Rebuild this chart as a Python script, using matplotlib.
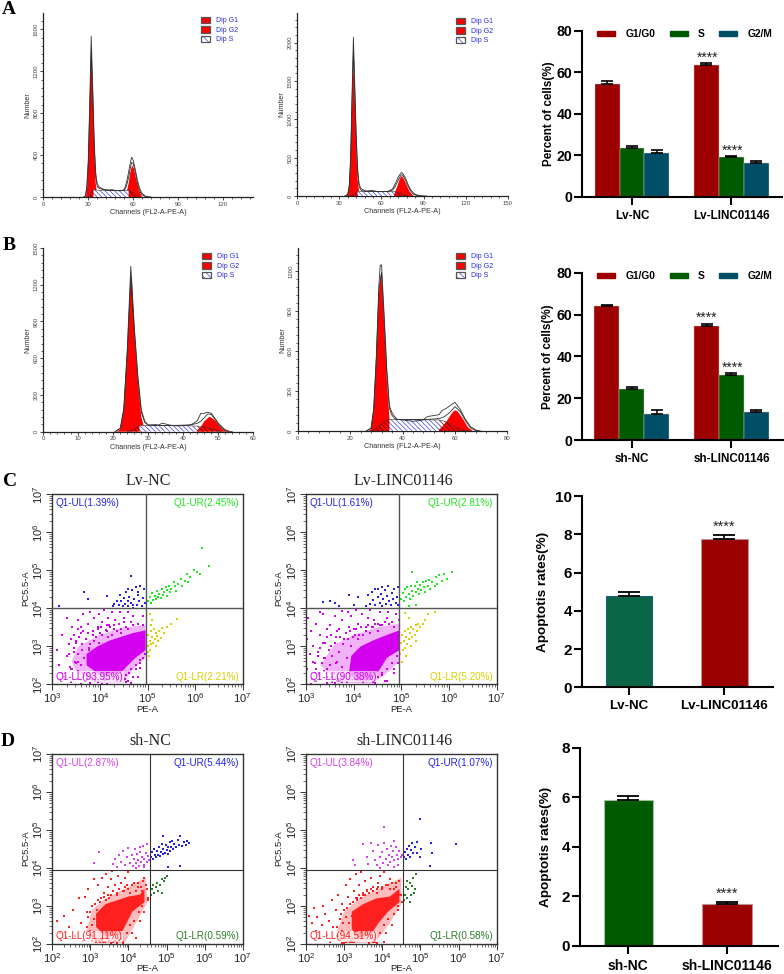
import numpy as np
import matplotlib
matplotlib.use("Agg")
import matplotlib.pyplot as plt
from matplotlib.legend_handler import HandlerTuple
from matplotlib.patches import Patch
from matplotlib.ticker import MultipleLocator, LogLocator, NullFormatter

plt.rcParams["font.family"] = ["Liberation Sans", "DejaVu Sans"]
plt.rcParams["hatch.linewidth"] = 0.5

W, H = 784, 974

# cell cycle histograms: channel / count
a1_g1_x = [28.5, 29.5, 30.5, 31.5, 32, 33, 34, 35, 36, 37]
a1_g1_y = [0, 120, 500, 1150, 1390, 950, 450, 130, 20, 0]
a1_g2_x = [54, 55, 56, 57, 58, 59.3, 60.5, 62, 64, 66]
a1_g2_y = [0, 20, 70, 130, 230, 302, 270, 170, 60, 0]
a1_s_x = [30, 32, 33.5, 36, 45, 55, 57, 60, 62, 64]
a1_s_y = [0, 40, 70, 65, 64, 64, 62, 40, 15, 0]
a1_data_x = [27, 28, 29, 30, 31, 32, 33, 34, 35, 36, 37, 38, 40, 43, 46, 49, 52, 54, 55, 56, 57, 58, 59, 60, 61, 62, 63, 64, 65, 66, 68, 70, 72]
a1_data_y = [0, 10, 90, 350, 900, 1533, 1050, 520, 230, 130, 100, 90, 75, 65, 70, 60, 60, 70, 110, 170, 240, 320, 380, 350, 290, 220, 150, 100, 60, 35, 10, 3, 0]
a1_fit_x = [27, 28, 29, 30, 31, 32, 33, 34, 35, 36, 37, 40, 45, 50, 54, 55, 56, 57, 58, 59, 60, 61, 62, 63, 64, 65, 66, 68, 70]
a1_fit_y = [0, 5, 70, 300, 820, 1400, 980, 480, 190, 100, 85, 70, 64, 62, 65, 85, 130, 190, 270, 330, 320, 265, 195, 125, 75, 40, 20, 5, 0]

a2_g1_x = [35, 36, 37, 38, 39, 40, 41, 42, 43, 44, 45, 46]
a2_g1_y = [0, 15, 90, 400, 1100, 1730, 1250, 640, 220, 60, 10, 0]
a2_g2_x = [66, 67, 69, 71, 73, 74.5, 76, 78, 80, 82, 83]
a2_g2_y = [0, 5, 20, 110, 220, 265, 220, 140, 60, 15, 0]
a2_s_x = [37, 40, 43, 46, 56, 66, 69, 72, 76, 79]
a2_s_y = [0, 20, 65, 58, 56, 55, 60, 45, 15, 0]
a2_data_x = [34, 35, 36, 37, 38, 39, 40, 41, 42, 43, 44, 45, 46, 48, 50, 53, 56, 60, 64, 66, 68, 70, 72, 74, 75, 77, 79, 81, 83, 85, 88, 92]
a2_data_y = [0, 10, 30, 130, 500, 1300, 2070, 1450, 800, 360, 170, 110, 90, 70, 65, 75, 62, 58, 58, 72, 95, 165, 250, 304, 300, 240, 150, 80, 35, 15, 5, 0]
a2_fit_x = [34, 36, 37, 38, 39, 40, 41, 42, 43, 44, 45, 46, 50, 60, 66, 68, 70, 72, 74, 75, 77, 79, 81, 83, 85, 88]
a2_fit_y = [0, 20, 110, 450, 1200, 1900, 1350, 720, 300, 130, 85, 68, 60, 56, 62, 78, 130, 210, 275, 275, 210, 125, 60, 20, 8, 0]

b1_g1_x = [21, 22, 23, 24, 25, 25.3, 26, 27, 28, 29, 30]
b1_g1_y = [0, 20, 170, 640, 1268, 1260, 800, 420, 120, 15, 0]
b1_g2_x = [42.5, 44, 45, 46, 47.5, 49, 50, 51, 52, 53]
b1_g2_y = [0, 15, 40, 85, 123, 95, 60, 25, 8, 0]
b1_s_x = [24, 26, 27.5, 29, 35, 42, 44, 46, 48, 50, 51]
b1_s_y = [0, 20, 52, 50, 49, 48, 45, 40, 25, 8, 0]
b1_data_x = [20.5, 22, 23, 24, 25, 26, 27, 28, 29, 30, 32, 33, 34, 36, 38, 40, 42, 43, 44, 45, 46, 47, 48, 49, 50, 51, 52, 53, 54]
b1_data_y = [0, 30, 190, 680, 1350, 860, 460, 180, 85, 55, 58, 55, 70, 55, 48, 50, 55, 70, 90, 150, 150, 160, 150, 110, 70, 40, 15, 5, 0]
b1_fit_x = [20.5, 22, 23, 24, 25, 26, 27, 28, 29, 30, 35, 42, 43, 44, 45, 46, 47, 48, 49, 50, 51, 52, 53]
b1_fit_y = [0, 25, 180, 650, 1270, 820, 440, 160, 75, 52, 50, 55, 62, 68, 85, 115, 145, 140, 105, 65, 32, 10, 0]

b2_g1_x = [27, 28, 29, 30, 31, 31.7, 32, 33, 34, 35, 36, 37]
b2_g1_y = [0, 15, 150, 520, 1030, 1170, 1150, 800, 400, 100, 10, 0]
b2_g2_x = [53, 55, 57, 59, 60, 61, 63, 65, 67]
b2_g2_y = [0, 30, 80, 140, 157, 150, 95, 30, 0]
b2_s_x = [28, 31, 33, 35, 45, 54, 56, 58, 60, 63, 66]
b2_s_y = [0, 35, 75, 90, 87, 85, 75, 55, 30, 10, 0]
b2_data_x = [26, 28, 29, 30, 31, 31.5, 32, 33, 34, 35, 36, 37, 38, 40, 42, 44, 46, 48, 49, 50, 52, 54, 55, 57, 58, 60, 62, 64, 66, 68, 70]
b2_data_y = [0, 25, 170, 560, 1100, 1245, 1245, 870, 470, 190, 140, 110, 90, 85, 80, 75, 80, 85, 105, 112, 118, 125, 155, 175, 190, 217, 165, 90, 35, 10, 0]
b2_fit_x = [26, 28, 29, 30, 31, 32, 33, 34, 35, 36, 37, 38, 42, 46, 50, 54, 56, 58, 60, 62, 64, 66, 68, 70]
b2_fit_y = [0, 20, 160, 540, 1060, 1190, 830, 440, 170, 120, 95, 88, 88, 88, 90, 95, 110, 140, 185, 150, 80, 25, 5, 0]

# bar values (mean, top of error bar)
cycle_phases = ["G1/G0", "S", "G2/M"]
a_groups = ["Lv-NC", "Lv-LINC01146"]
a_means = [[54.4, 23.4, 21.1], [63.8, 19.0, 16.3]]
a_tops = [[55.9, 24.3, 22.7], [64.7, 19.8, 17.1]]
b_groups = ["sh-NC", "sh-LINC01146"]
b_means = [[63.9, 24.4, 12.3], [54.7, 31.1, 13.5]]
b_tops = [[64.7, 25.2, 14.2], [55.6, 32.2, 14.3]]
c_means = [4.79, 7.75]
c_tops = [4.97, 7.98]
d_means = [5.87, 1.67]
d_tops = [6.03, 1.78]

# flow plots, all in log10 units. core/halo outline the dense part of the cloud
c1_core_x = [3.72, 3.72, 3.95, 4.2, 4.45, 4.7, 4.96, 4.96, 4.75, 4.55, 4.4, 4.0]
c1_core_y = [2.5, 2.8, 3.0, 3.15, 3.25, 3.35, 3.42, 2.9, 2.7, 2.45, 2.25, 2.25]
c1_halo_x = [3.4, 3.55, 4.0, 4.5, 4.96, 4.96, 4.7, 4.5, 3.9, 3.55]
c1_halo_y = [2.6, 3.0, 3.3, 3.5, 3.55, 2.7, 2.4, 2.05, 2.05, 2.25]
c1_ll_x = [3.1, 3.15, 3.2, 3.25, 3.3, 3.35, 3.4, 3.42, 3.45, 3.5, 3.52, 3.55, 3.55, 3.6, 3.62, 3.65, 3.7, 3.72, 3.75, 3.78, 3.8, 3.85, 3.88, 3.9, 3.95, 3.98, 4.0, 4.05, 4.08, 4.1, 4.15, 4.18, 4.2, 4.25, 4.3, 4.32, 4.35, 4.4, 4.42, 4.45, 4.5, 4.52, 4.55, 4.6, 4.62, 4.65, 4.7, 4.75, 4.8, 4.85, 4.9, 3.6, 3.4, 3.2, 3.3, 3.8, 4.6, 4.65, 4.8, 4.9]
c1_ll_y = [2.9, 2.5, 3.3, 2.2, 2.75, 3.05, 2.4, 3.5, 2.85, 3.1, 2.15, 3.7, 2.6, 3.35, 2.9, 3.85, 3.2, 2.25, 3.6, 2.95, 3.9, 3.3, 3.75, 2.1, 3.5, 3.85, 3.35, 3.65, 3.95, 2.12, 3.4, 3.75, 3.55, 3.9, 3.45, 3.7, 2.1, 3.6, 3.9, 3.45, 3.75, 2.15, 3.5, 3.9, 2.3, 3.65, 3.8, 2.4, 3.6, 2.55, 3.8, 2.02, 2.05, 2.3, 3.75, 2.03, 2.08, 2.03, 2.2, 2.7]
c1_mid_x = [3.42, 3.45, 3.48, 3.5, 3.53, 3.55, 3.57, 3.6, 3.62, 3.65, 3.67, 3.7, 3.72, 3.75, 3.78, 3.8, 3.82, 3.85, 3.88, 3.9, 3.92, 3.95, 3.98, 4.02, 4.05, 4.08, 4.12, 4.15, 4.18, 4.22, 4.25, 4.3, 4.35, 4.4, 4.45, 4.5, 4.55, 4.6, 4.65, 4.7, 4.75, 4.8, 4.85, 4.9, 4.95, 3.35, 3.38, 3.4, 3.45, 3.5, 3.55, 3.6, 3.65, 3.7, 3.95, 4.05, 4.15, 4.55, 4.7, 4.85]
c1_mid_y = [2.4, 2.95, 2.6, 3.15, 2.35, 2.8, 3.25, 2.5, 3.05, 2.3, 2.7, 3.2, 2.15, 3.35, 2.9, 3.05, 2.2, 3.4, 3.15, 2.12, 3.25, 3.45, 3.1, 3.5, 3.3, 2.15, 3.42, 3.55, 3.25, 3.5, 3.3, 3.55, 3.4, 3.6, 3.35, 3.65, 2.25, 3.45, 2.4, 3.55, 2.5, 3.6, 2.65, 3.55, 2.8, 2.8, 2.45, 3.2, 3.3, 2.55, 3.45, 3.5, 3.4, 2.1, 2.05, 2.02, 2.02, 2.05, 2.2, 2.42]
c1_ul_x = [3.14, 3.67, 3.76, 4.14, 4.65, 4.28, 4.3, 4.35, 4.4, 4.42, 4.45, 4.48, 4.5, 4.52, 4.55, 4.58, 4.6, 4.62, 4.65, 4.68, 4.7, 4.72, 4.75, 4.78, 4.8, 4.82, 4.85, 4.88, 4.9, 4.92, 4.94, 4.8, 4.7, 4.6]
c1_ul_y = [4.05, 4.44, 4.25, 4.32, 4.85, 4.05, 4.12, 4.2, 4.08, 4.35, 4.18, 4.05, 4.28, 4.12, 4.42, 4.2, 4.05, 4.3, 4.15, 4.48, 4.08, 4.25, 4.55, 4.1, 4.35, 4.18, 4.6, 4.05, 4.28, 4.5, 4.15, 4.42, 4.02, 4.52]
c1_ur_x = [5.02, 5.05, 5.08, 5.1, 5.12, 5.15, 5.18, 5.2, 5.22, 5.25, 5.28, 5.3, 5.32, 5.35, 5.38, 5.4, 5.42, 5.45, 5.48, 5.5, 5.55, 5.58, 5.6, 5.65, 5.7, 5.72, 5.78, 5.82, 5.85, 5.9, 5.98, 6.03, 6.1, 6.15, 6.3]
c1_ur_y = [4.2, 4.3, 4.15, 4.4, 4.22, 4.32, 4.25, 4.45, 4.3, 4.38, 4.28, 4.5, 4.35, 4.42, 4.55, 4.32, 4.48, 4.6, 4.42, 4.5, 4.7, 4.58, 4.45, 4.65, 4.78, 4.6, 4.72, 4.9, 4.68, 4.82, 5.0, 4.95, 4.9, 5.6, 5.12]
c1_lr_x = [5.0, 5.02, 5.03, 5.05, 5.05, 5.07, 5.08, 5.1, 5.1, 5.12, 5.13, 5.15, 5.17, 5.18, 5.2, 5.22, 5.25, 5.28, 5.3, 5.35, 5.42, 5.5, 5.63, 5.05, 5.08, 5.0]
c1_lr_y = [3.0, 3.3, 2.75, 3.15, 3.85, 3.4, 3.05, 3.25, 3.7, 3.1, 3.45, 3.2, 3.35, 3.0, 3.28, 3.15, 3.4, 3.22, 3.48, 3.35, 3.52, 3.58, 3.71, 2.9, 3.55, 2.85]

c2_core_x = [3.9, 3.95, 4.15, 4.4, 4.7, 4.96, 4.96, 4.7, 4.55, 4.35, 4.05]
c2_core_y = [2.3, 2.75, 3.0, 3.15, 3.3, 3.42, 2.9, 2.7, 2.4, 2.1, 2.1]
c2_halo_x = [3.3, 3.6, 4.0, 4.5, 4.96, 4.96, 4.7, 4.4, 3.7]
c2_halo_y = [2.5, 3.05, 3.3, 3.5, 3.6, 2.6, 2.3, 2.02, 2.05]
c2_ll_x = [3.02, 3.03, 3.05, 3.08, 3.1, 3.12, 3.15, 3.18, 3.2, 3.25, 3.28, 3.3, 3.35, 3.38, 3.4, 3.45, 3.5, 3.52, 3.55, 3.6, 3.62, 3.65, 3.7, 3.72, 3.75, 3.8, 3.85, 3.88, 3.9, 3.95, 4.0, 4.05, 4.1, 4.12, 4.18, 4.2, 4.25, 4.3, 4.35, 4.38, 4.42, 4.45, 4.5, 4.55, 4.6, 4.65, 4.7, 4.72, 4.8, 4.85, 4.88, 4.92, 3.1, 3.2, 3.3, 3.45, 3.6, 3.75, 4.4, 4.6]
c2_ll_y = [3.2, 2.4, 3.75, 2.8, 3.4, 2.15, 3.0, 2.55, 3.6, 2.85, 2.3, 3.3, 3.85, 2.7, 3.1, 2.4, 3.55, 3.0, 2.2, 3.8, 3.25, 2.6, 3.45, 2.1, 3.7, 3.2, 2.05, 3.9, 3.5, 3.8, 3.45, 3.95, 3.6, 3.3, 3.85, 2.05, 3.5, 3.75, 3.95, 3.5, 3.7, 2.03, 3.6, 3.9, 3.55, 2.1, 3.75, 3.9, 3.65, 2.3, 3.85, 2.55, 2.02, 2.08, 3.9, 2.03, 2.04, 3.92, 2.05, 2.3]
c2_mid_x = [3.22, 3.25, 3.28, 3.3, 3.33, 3.35, 3.38, 3.4, 3.43, 3.45, 3.48, 3.5, 3.53, 3.55, 3.58, 3.6, 3.63, 3.65, 3.68, 3.7, 3.72, 3.75, 3.78, 3.8, 3.83, 3.85, 3.88, 3.9, 3.92, 3.95, 3.98, 4.02, 4.05, 4.1, 4.15, 4.2, 4.25, 4.3, 4.35, 4.4, 4.45, 4.5, 4.55, 4.6, 4.65, 4.7, 4.75, 4.8, 4.85, 4.9, 4.95, 3.15, 3.18, 3.45, 3.55, 3.65, 3.75, 4.52, 4.7, 4.85]
c2_mid_y = [2.4, 2.75, 2.25, 2.95, 2.55, 3.1, 2.35, 2.7, 3.25, 2.2, 2.9, 2.5, 3.3, 2.75, 2.3, 3.1, 2.55, 3.4, 2.15, 2.85, 3.25, 2.45, 3.05, 2.2, 3.35, 2.7, 3.2, 2.3, 3.4, 3.0, 3.25, 3.3, 3.45, 3.2, 3.5, 3.3, 3.4, 3.55, 3.35, 3.5, 3.6, 3.4, 3.55, 2.25, 3.65, 2.4, 3.6, 2.55, 3.5, 2.75, 3.7, 2.6, 2.3, 3.45, 2.05, 2.08, 2.05, 2.2, 2.1, 2.4]
c2_ul_x = [3.35, 3.5, 3.6, 3.7, 3.9, 4.0, 4.1, 4.25, 4.3, 4.35, 4.38, 4.4, 4.45, 4.5, 4.52, 4.55, 4.58, 4.6, 4.62, 4.65, 4.68, 4.7, 4.72, 4.75, 4.78, 4.8, 4.82, 4.85, 4.88, 4.9, 4.92, 4.94, 4.6, 4.45]
c2_ul_y = [4.16, 4.18, 4.14, 4.06, 4.35, 4.08, 4.3, 4.05, 4.35, 4.12, 4.42, 4.22, 4.08, 4.3, 4.5, 4.15, 4.38, 4.05, 4.25, 4.48, 4.12, 4.32, 4.58, 4.2, 4.08, 4.4, 4.25, 4.5, 4.15, 4.3, 4.08, 4.55, 4.55, 4.5]
c2_ur_x = [5.0, 5.03, 5.05, 5.08, 5.1, 5.12, 5.15, 5.18, 5.2, 5.22, 5.25, 5.28, 5.3, 5.32, 5.35, 5.38, 5.4, 5.42, 5.45, 5.48, 5.5, 5.52, 5.55, 5.58, 5.6, 5.65, 5.7, 5.72, 5.75, 5.8, 5.85, 5.9, 5.95, 6.07, 5.22, 5.3, 5.15]
c2_ur_y = [4.25, 4.4, 4.2, 4.5, 4.3, 4.55, 4.38, 4.25, 4.6, 4.45, 4.32, 4.58, 4.42, 4.7, 4.5, 4.38, 4.62, 4.48, 4.68, 4.55, 4.42, 4.72, 4.6, 4.75, 4.5, 4.7, 4.58, 4.82, 4.65, 4.88, 4.72, 4.9, 4.78, 4.95, 4.95, 4.08, 4.05]
c2_lr_x = [4.98, 5.0, 5.02, 5.03, 5.05, 5.07, 5.08, 5.1, 5.12, 5.14, 5.16, 5.18, 5.2, 5.22, 5.25, 5.28, 5.3, 5.33, 5.35, 5.4, 5.45, 5.5, 5.55, 5.7, 5.08, 5.15, 5.02, 5.1, 5.2, 5.3]
c2_lr_y = [2.8, 3.1, 3.3, 2.9, 3.15, 3.4, 2.95, 3.25, 3.05, 3.45, 3.2, 3.35, 3.5, 3.25, 3.45, 3.3, 3.55, 3.4, 3.6, 3.5, 3.6, 3.7, 3.85, 3.9, 3.88, 3.75, 2.6, 2.75, 3.0, 3.15]

d1_core_x = [3.15, 3.15, 3.4, 3.7, 4.0, 4.3, 4.42, 4.42, 4.1, 3.95, 3.8, 3.4]
d1_core_y = [2.45, 2.8, 3.05, 3.15, 3.25, 3.3, 3.45, 3.1, 2.85, 2.55, 2.25, 2.2]
d1_halo_x = [2.9, 3.05, 3.4, 3.9, 4.45, 4.5, 4.25, 4.0, 3.9, 3.1]
d1_halo_y = [2.35, 2.9, 3.2, 3.45, 3.75, 3.1, 2.65, 2.2, 2.03, 2.03]
d1_ll_x = [2.12, 2.2, 2.3, 2.35, 2.45, 2.55, 2.6, 2.7, 2.75, 2.8, 2.85, 2.9, 2.95, 3.0, 3.05, 3.1, 3.15, 3.2, 3.25, 3.3, 3.32, 3.35, 3.4, 3.45, 3.5, 3.55, 3.58, 3.6, 3.65, 3.7, 3.72, 3.75, 3.8, 3.85, 3.88, 3.9, 3.95, 4.0, 4.05, 4.1, 4.15, 4.2, 4.25, 4.3, 4.35, 4.4, 4.45, 4.5]
d1_ll_y = [2.6, 2.3, 2.75, 2.15, 2.45, 2.9, 2.2, 3.2, 2.55, 2.08, 3.25, 2.85, 3.45, 2.35, 3.0, 3.7, 2.1, 3.55, 3.1, 3.75, 2.05, 3.35, 3.85, 3.5, 3.2, 3.7, 3.92, 2.05, 3.55, 3.3, 3.8, 2.1, 3.6, 2.02, 3.4, 3.75, 3.55, 3.9, 3.35, 2.3, 3.6, 2.15, 3.5, 2.6, 3.4, 2.85, 3.55, 3.15]
d1_mid_x = [2.92, 2.95, 2.98, 3.0, 3.03, 3.05, 3.08, 3.1, 3.12, 3.15, 3.18, 3.2, 3.23, 3.25, 3.28, 3.3, 3.33, 3.35, 3.38, 3.4, 3.45, 3.5, 3.55, 3.6, 3.65, 3.7, 3.75, 3.8, 3.85, 3.9, 3.95, 4.0, 4.05, 4.1, 4.15, 4.2, 4.25, 4.28, 4.32, 4.35, 4.38, 4.42, 4.48, 4.5, 3.05, 3.15, 3.25, 3.55, 3.7, 3.85]
d1_mid_y = [2.45, 2.7, 2.25, 2.85, 2.5, 3.0, 2.2, 2.65, 3.05, 2.12, 2.9, 3.15, 2.08, 2.75, 3.2, 2.1, 2.6, 3.25, 2.05, 3.15, 3.3, 2.08, 3.3, 3.4, 2.08, 3.35, 3.45, 2.12, 3.4, 3.5, 2.3, 3.45, 2.5, 3.55, 2.6, 3.4, 3.6, 2.85, 3.5, 3.0, 3.65, 3.75, 3.45, 3.2, 2.08, 2.05, 2.05, 2.03, 2.03, 2.05]
d1_ul_x = [3.1, 3.22, 3.6, 3.65, 3.7, 3.75, 3.8, 3.85, 3.9, 3.95, 4.0, 4.05, 4.1, 4.12, 4.15, 4.18, 4.2, 4.22, 4.25, 4.28, 4.3, 4.33, 4.35, 4.38, 4.4, 4.42, 4.45, 4.48, 4.5, 4.53, 4.3, 4.4, 4.48, 4.2]
d1_ul_y = [4.14, 4.42, 4.1, 4.25, 4.02, 4.35, 4.15, 4.45, 4.08, 4.28, 4.52, 4.12, 4.35, 4.05, 4.25, 4.5, 4.12, 4.38, 4.2, 4.05, 4.42, 4.15, 4.3, 4.58, 4.08, 4.25, 4.4, 4.15, 4.32, 4.2, 4.55, 4.02, 4.62, 4.0]
d1_ur_x = [4.6, 4.62, 4.65, 4.68, 4.7, 4.72, 4.75, 4.78, 4.8, 4.82, 4.85, 4.88, 4.9, 4.92, 4.95, 4.98, 5.0, 5.03, 5.05, 5.08, 5.1, 5.12, 5.15, 5.18, 5.2, 5.25, 5.3, 5.33, 5.35, 5.4, 5.45, 5.5, 5.55, 5.6, 4.9, 5.36, 5.05]
d1_ur_y = [4.3, 4.42, 4.25, 4.5, 4.35, 4.28, 4.45, 4.35, 4.55, 4.32, 4.42, 4.62, 4.38, 4.5, 4.4, 4.6, 4.48, 4.38, 4.55, 4.68, 4.45, 4.55, 4.72, 4.5, 4.62, 4.55, 4.75, 4.6, 4.85, 4.58, 4.68, 4.6, 4.72, 4.65, 4.85, 4.05, 4.02]
d1_lr_x = [4.6, 4.62, 4.65, 4.68, 4.72, 4.75, 4.78, 4.82, 4.88, 4.93, 4.97, 5.02, 4.88]
d1_lr_y = [3.3, 3.45, 3.55, 3.35, 3.5, 3.6, 3.4, 3.55, 3.7, 3.65, 3.75, 3.8, 3.35]

d2_core_x = [3.2, 3.2, 3.5, 3.85, 4.2, 4.45, 4.45, 4.15, 3.9, 3.7, 3.35]
d2_core_y = [2.4, 2.85, 3.05, 3.2, 3.25, 3.45, 3.1, 2.85, 2.55, 2.25, 2.15]
d2_halo_x = [2.8, 3.0, 3.4, 3.9, 4.5, 4.5, 4.2, 3.9, 3.7, 2.95]
d2_halo_y = [2.3, 2.85, 3.2, 3.45, 3.75, 3.05, 2.55, 2.15, 2.03, 2.03]
d2_ll_x = [2.08, 2.15, 2.2, 2.25, 2.3, 2.35, 2.42, 2.45, 2.5, 2.55, 2.6, 2.62, 2.68, 2.72, 2.78, 2.82, 2.85, 2.9, 2.95, 3.0, 3.05, 3.1, 3.15, 3.2, 3.25, 3.3, 3.35, 3.4, 3.45, 3.5, 3.55, 3.6, 3.65, 3.7, 3.75, 3.8, 3.85, 3.9, 3.95, 4.0, 4.05, 4.1, 4.15, 4.2, 4.25, 4.3, 4.35, 4.4, 4.45, 4.52]
d2_ll_y = [2.75, 2.55, 2.95, 2.35, 2.7, 2.15, 2.5, 3.0, 2.8, 2.25, 2.6, 2.05, 3.15, 2.45, 2.9, 2.2, 3.3, 2.65, 3.05, 2.02, 3.55, 3.25, 3.7, 2.05, 3.4, 3.85, 3.2, 3.55, 3.9, 3.3, 3.65, 3.42, 2.03, 3.75, 3.5, 2.05, 3.35, 3.6, 3.8, 3.45, 3.9, 2.3, 3.55, 3.72, 2.5, 3.45, 3.6, 2.9, 3.3, 3.1]
d2_mid_x = [2.82, 2.85, 2.88, 2.9, 2.93, 2.95, 2.98, 3.0, 3.03, 3.05, 3.08, 3.1, 3.13, 3.15, 3.18, 3.2, 3.23, 3.25, 3.28, 3.3, 3.35, 3.4, 3.45, 3.5, 3.55, 3.6, 3.65, 3.7, 3.75, 3.8, 3.85, 3.9, 3.95, 4.0, 4.05, 4.1, 4.15, 4.2, 4.25, 4.3, 4.35, 4.4, 4.45, 4.48, 2.95, 3.05, 3.15, 3.75, 3.85, 4.05]
d2_mid_y = [2.45, 2.2, 2.65, 2.1, 2.8, 2.35, 2.55, 2.9, 2.15, 2.7, 2.95, 2.3, 2.55, 3.05, 2.08, 2.75, 3.1, 2.05, 2.6, 3.2, 3.15, 3.3, 3.2, 3.35, 3.3, 3.4, 3.35, 3.45, 3.4, 2.1, 3.45, 3.5, 2.3, 3.5, 2.5, 3.55, 2.65, 3.45, 3.6, 2.8, 3.5, 3.0, 3.65, 3.3, 2.03, 2.05, 2.05, 2.05, 2.03, 2.05]
d2_ul_x = [3.22, 3.28, 3.5, 3.6, 3.62, 3.7, 3.75, 3.8, 3.85, 3.9, 3.95, 4.0, 4.02, 4.05, 4.1, 4.12, 4.15, 4.18, 4.2, 4.22, 4.25, 4.28, 4.3, 4.32, 4.35, 4.38, 4.4, 4.42, 4.45, 4.48, 4.52, 4.05, 3.95, 4.3]
d2_ul_y = [4.2, 4.08, 4.62, 4.28, 4.1, 4.65, 4.45, 4.2, 4.08, 4.6, 4.3, 4.42, 4.12, 4.65, 4.25, 4.5, 4.08, 4.35, 4.15, 4.58, 4.3, 4.45, 4.02, 4.22, 4.55, 4.35, 4.08, 4.25, 4.45, 4.3, 4.35, 5.08, 4.0, 4.7]
d2_ur_x = [4.57, 4.6, 4.62, 4.65, 4.68, 4.7, 4.72, 4.75, 4.78, 4.8, 4.85, 4.9, 4.92, 5.02, 5.28, 5.3, 5.25, 5.92, 4.98, 5.0]
d2_ur_y = [4.3, 4.42, 4.25, 4.5, 4.35, 4.58, 4.3, 4.48, 4.65, 4.4, 4.55, 4.68, 4.4, 4.5, 4.65, 4.4, 4.05, 4.62, 5.28, 4.3]
d2_lr_x = [4.56, 4.6, 4.62, 4.65, 4.68, 4.72, 4.75, 4.78, 4.8, 4.82, 4.85, 4.88, 4.72, 4.65]
d2_lr_y = [3.15, 3.3, 3.5, 3.2, 3.45, 3.6, 3.3, 3.52, 3.75, 3.35, 3.45, 3.85, 3.1, 3.65]


def px_axes(left, top, right, bottom):
    return fig.add_axes([left / W, 1 - bottom / H, (right - left) / W, (bottom - top) / H])


def histogram(box, xlim, ylim, xmaj, ymaj, g1, g2, s, data, fit, s_lims, legend_px):
    ax = px_axes(*box)
    ax.set_xlim(0, xlim)
    ax.set_ylim(0, ylim)
    for name in ["top", "right"]:
        ax.spines[name].set_visible(False)
    for name in ["left", "bottom"]:
        ax.spines[name].set_linewidth(0.9)
        ax.spines[name].set_color("#222222")
    ax.xaxis.set_major_locator(MultipleLocator(xmaj))
    ax.xaxis.set_minor_locator(MultipleLocator(xmaj / 5))
    ax.yaxis.set_major_locator(MultipleLocator(ymaj))
    ax.yaxis.set_minor_locator(MultipleLocator(ymaj / 5))
    ax.tick_params(which="major", length=2.5, width=0.6, pad=0.8, labelsize=4.3, labelcolor="#444444", color="#222222")
    ax.tick_params(which="minor", length=1.6, width=0.5, color="#222222")
    ax.tick_params(axis="y", labelrotation=90)
    for lab in ax.get_yticklabels():
        lab.set_va("center")
    ax.set_xlabel("Channels (FL2-A-PE-A)", fontsize=5.2, color="#333333", va="center")
    ax.xaxis.set_label_coords(0.5, -15.5 / (box[3] - box[1]))
    ax.set_ylabel("Number", fontsize=5.2, color="#333333", va="center")
    ax.yaxis.set_label_coords(-15 / (box[2] - box[0]), 0.5)

    ax.fill(g1[0], g1[1], color="#ff0000", lw=0, zorder=2)
    ax.fill(g2[0], g2[1], color="#ff0000", lw=0, zorder=2)
    sx = np.array(s[0], dtype=float)
    sy = np.array(s[1], dtype=float)
    mid = (sx >= s_lims[0]) & (sx <= s_lims[1])
    ax.fill_between(sx, 0, sy, where=mid, facecolor="white", edgecolor="#3a44d8", hatch="\\\\\\\\\\\\\\", linewidth=0, zorder=3)
    ax.fill_between(sx, 0, sy, where=sx <= s_lims[0], facecolor="none", edgecolor="#5a0000", hatch="\\\\\\\\\\\\\\", linewidth=0, zorder=3)
    ax.fill_between(sx, 0, sy, where=sx >= s_lims[1], facecolor="none", edgecolor="#5a0000", hatch="\\\\\\\\\\\\\\", linewidth=0, zorder=3)
    ax.plot(sx, sy, color="#333333", lw=0.4, zorder=4)
    ax.plot(fit[0], fit[1], color="#222222", lw=0.55, zorder=5)
    ax.plot(data[0], data[1], color="#333333", lw=0.6, zorder=5)

    handles = [Patch(facecolor="#ff0000", edgecolor="#555555", lw=0.9),
               Patch(facecolor="#ff0000", edgecolor="#555555", lw=0.9),
               (Patch(facecolor="white", edgecolor="#3a44d8", hatch="\\\\\\\\\\", lw=0),
                Patch(facecolor="none", edgecolor="#555555", lw=0.9))]
    ax.legend(handles, ["Dip G1", "Dip G2", "Dip S"], loc="upper left",
              bbox_to_anchor=(legend_px[0] / W, 1 - legend_px[1] / H), bbox_transform=fig.transFigure,
              frameon=False, fontsize=5, labelcolor="#2a2ae0", borderpad=0, borderaxespad=0,
              handlelength=1.35, handleheight=1.0, handletextpad=0.75, labelspacing=0.26,
              handler_map={tuple: HandlerTuple(ndivide=1, pad=0)})
    return ax


def style_bar_axes(ax, ymax, ystep, group_labels, ticks, ylabel, tick_size, group_size, label_size, label_x):
    for name in ["top", "right"]:
        ax.spines[name].set_visible(False)
    for name in ["left", "bottom"]:
        ax.spines[name].set_linewidth(1.5)
    ax.set_ylim(0, ymax)
    ax.yaxis.set_major_locator(MultipleLocator(ystep))
    ax.set_xticks(ticks)
    ax.set_xticklabels(group_labels, fontsize=group_size, fontweight="bold")
    ax.tick_params(axis="x", length=5.5, width=1.5, pad=4)
    ax.tick_params(axis="y", length=5.5, width=1.5, pad=1.5, labelsize=tick_size)
    for lab in ax.get_yticklabels():
        lab.set_fontweight("bold")
    ax.set_ylabel(ylabel, fontsize=label_size, fontweight="bold", va="center")
    ax.yaxis.set_label_coords(label_x, 0.5)


def cycle_bars(box, means, tops, groups, star_pos, xlim, label_x):
    ax = px_axes(*box)
    ax.set_xlim(*xlim)
    colors = ["#9c0000", "#005a00", "#004f66"]
    for g, centre in enumerate([0, 4]):
        for i in range(3):
            x = centre - 1 + i
            ax.bar(x, means[g][i], width=1, color=colors[i], edgecolor="#d8c8c8", linewidth=0.3)
            ax.errorbar(x, means[g][i], yerr=[[0], [tops[g][i] - means[g][i]]], color="black", capsize=4.5, elinewidth=1.1, capthick=1.2)
    style_bar_axes(ax, 80, 20, groups, [0, 4], "Percent of cells(%)", 10.2, 8.4, 8.4, label_x)
    for x, y in star_pos:
        ax.text(x, y, "****", ha="center", va="center", fontsize=10, color="#222222")
    handles = [Patch(color=c) for c in colors]
    ax.legend(handles, cycle_phases, ncol=3, loc="center left", bbox_to_anchor=(0.075, 0.98), frameon=False,
              prop={"size": 7.4, "weight": "bold"}, handlelength=1.75, handleheight=0.45,
              handletextpad=1.0, columnspacing=1.4, borderpad=0, borderaxespad=0)
    return ax


def apoptosis_bars(box, means, tops, groups, colors, edges, ymax, ystep, star, xlim, tick_size, group_size, label_size, label_x, width):
    ax = px_axes(*box)
    ax.set_xlim(*xlim)
    for i in range(2):
        ax.bar(i, means[i], width=width, color=colors[i], edgecolor=edges[i], linewidth=0.8)
        ax.errorbar(i, means[i], yerr=[[0], [tops[i] - means[i]]], color="black", capsize=8, elinewidth=1.2, capthick=1.3)
    style_bar_axes(ax, ymax, ystep, groups, [0, 1], "Apoptotis rates(%)", tick_size, group_size, label_size, label_x)
    ax.text(star[0], star[1], "****", ha="center", va="center", fontsize=10.5, color="#222222")
    return ax


def flow_plot(box, xlo, gate_x, gate_y, groups, labels, title, title_px, gate_color, gate_lw):
    ax = px_axes(*box)
    ax.set_xscale("log")
    ax.set_yscale("log")
    ax.set_xlim(10.0 ** xlo, 1e7)
    ax.set_ylim(1e2, 1e7)
    for spine in ax.spines.values():
        spine.set_linewidth(1.0)
        spine.set_color("#333333")
    for axis in [ax.xaxis, ax.yaxis]:
        axis.set_major_locator(LogLocator(base=10, numticks=12))
        axis.set_minor_locator(LogLocator(base=10, subs=np.arange(2, 10), numticks=12))
        axis.set_minor_formatter(NullFormatter())
    ax.tick_params(which="major", length=4, width=0.7, pad=1.2, labelsize=8, color="#333333", labelcolor="#222222")
    ax.tick_params(which="minor", length=2, width=0.5, color="#333333")
    ax.tick_params(axis="y", labelrotation=90)
    for lab in ax.get_yticklabels():
        lab.set_va("center")
    ax.set_xlabel("PE-A", fontsize=6.8, color="#222222", va="center")
    ax.xaxis.set_label_coords(0.5, -0.13)
    ax.set_ylabel("PC5.5-A", fontsize=6.8, color="#222222", va="center")
    ax.yaxis.set_label_coords(-0.142, 0.505)

    for px, py, color in groups:
        ax.scatter(np.power(10.0, px), np.power(10.0, py), s=1.1, c=color, marker="s", linewidths=0, zorder=2)

    ax.axvline(10.0 ** gate_x, color=gate_color, lw=gate_lw, zorder=3)
    ax.axhline(10.0 ** gate_y, color=gate_color, lw=gate_lw, zorder=3)
    for (fx, fy, ha), (text, color) in zip([(0.018, 0.952, "left"), (0.982, 0.952, "right"), (0.018, 0.04, "left"), (0.982, 0.04, "right")], labels):
        ax.text(fx, fy, text, transform=ax.transAxes, ha=ha, va="center", color=color, fontsize=7.1, zorder=5,
                bbox=dict(facecolor="white", alpha=0.65, edgecolor="none", pad=0.3))
    fig.text(title_px[0] / W, 1 - title_px[1] / H, title, family="Liberation Serif", fontsize=11.5, ha="center", va="center", color="#222222")
    return ax


def cloud(ax, core, halo, color):
    ax.fill(10.0 ** np.array(halo[0]), 10.0 ** np.array(halo[1]), color=color, alpha=0.3, lw=0, zorder=1)
    ax.fill(10.0 ** np.array(core[0]), 10.0 ** np.array(core[1]), color=color, lw=0, zorder=1)


fig = plt.figure(figsize=(W / 100, H / 100), dpi=100)

histogram((43.3, 13, 253, 197), 140, 1755, 30, 400,
          (a1_g1_x, a1_g1_y), (a1_g2_x, a1_g2_y), (a1_s_x, a1_s_y), (a1_data_x, a1_data_y), (a1_fit_x, a1_fit_y), (33.5, 57), (201, 17))
histogram((297.3, 12.7, 507.7, 196), 150, 2390, 30, 500,
          (a2_g1_x, a2_g1_y), (a2_g2_x, a2_g2_y), (a2_s_x, a2_s_y), (a2_data_x, a2_data_y), (a2_fit_x, a2_fit_y), (43, 69), (456, 18))
histogram((43.3, 248, 253.3, 431.7), 60, 1500, 10, 300,
          (b1_g1_x, b1_g1_y), (b1_g2_x, b1_g2_y), (b1_s_x, b1_s_y), (b1_data_x, b1_data_y), (b1_fit_x, b1_fit_y), (27.5, 44), (202, 253))
histogram((297.7, 248.3, 507.3, 431.3), 80, 1370, 20, 300,
          (b2_g1_x, b2_g1_y), (b2_g2_x, b2_g2_y), (b2_s_x, b2_s_y), (b2_data_x, b2_data_y), (b2_fit_x, b2_fit_y), (35, 54), (456, 253))

cycle_bars((582.3, 31, 781.7, 196.7), a_means, a_tops, a_groups, [(3.05, 67.0), (4.04, 22.2)], (-2, 6.03), -0.167)
cycle_bars((582, 272.7, 783, 440), b_means, b_tops, b_groups, [(3.01, 58.5), (4.03, 34.7)], (-2, 6.07), -0.17)
apoptosis_bars((581.7, 496, 773, 687.3), c_means, c_tops, a_groups, ["#0b6647", "#9b0000"], ["#1a5f80", "#c09090"],
               10, 2, (1, 8.39), (-0.495, 1.51), 11, 9.6, 9.7, -0.204, 0.49)
apoptosis_bars((580, 747.7, 778.3, 945.7), d_means, d_tops, b_groups, ["#005a00", "#9b0000"], ["#a0c0a0", "#c09090"],
               8, 2, (1, 2.11), (-0.49, 1.52), 11, 10, 9.7, -0.171, 0.5)

ax = flow_plot((52.3, 494.3, 242.7, 684.3), 3, 4.96, 4.0,
               [(c1_ll_x, c1_ll_y, "#d400f0"), (c1_mid_x, c1_mid_y, "#d400f0"), (c1_ul_x, c1_ul_y, "#2222e8"), (c1_ur_x, c1_ur_y, "#22e822"), (c1_lr_x, c1_lr_y, "#d8d000")],
               [("Q1-UL(1.39%)", "#2222e8"), ("Q1-UR(2.45%)", "#22e822"), ("Q1-LL(93.95%)", "#d400f0"), ("Q1-LR(2.21%)", "#d8d000")],
               "Lv-NC", (148, 481), "#555555", 1.0)
cloud(ax, (c1_core_x, c1_core_y), (c1_halo_x, c1_halo_y), "#d400f0")
ax = flow_plot((306, 494.3, 496.7, 684.3), 3, 4.96, 4.0,
               [(c2_ll_x, c2_ll_y, "#d400f0"), (c2_mid_x, c2_mid_y, "#d400f0"), (c2_ul_x, c2_ul_y, "#2222e8"), (c2_ur_x, c2_ur_y, "#22e822"), (c2_lr_x, c2_lr_y, "#d8d000")],
               [("Q1-UL(1.61%)", "#2222e8"), ("Q1-UR(2.81%)", "#22e822"), ("Q1-LL(90.38%)", "#d400f0"), ("Q1-LR(5.20%)", "#d8d000")],
               "Lv-LINC01146", (403, 481), "#555555", 1.0)
cloud(ax, (c2_core_x, c2_core_y), (c2_halo_x, c2_halo_y), "#d400f0")
ax = flow_plot((52.3, 754, 242.7, 944), 2, 4.57, 3.94,
               [(d1_ll_x, d1_ll_y, "#ff2020"), (d1_mid_x, d1_mid_y, "#ff2020"), (d1_ul_x, d1_ul_y, "#d640f0"), (d1_ur_x, d1_ur_y, "#2222e8"), (d1_lr_x, d1_lr_y, "#2a7a2a")],
               [("Q1-UL(2.87%)", "#d640f0"), ("Q1-UR(5.44%)", "#2222e8"), ("Q1-LL(91.11%)", "#ff2020"), ("Q1-LR(0.59%)", "#2a7a2a")],
               "sh-NC", (150, 741), "#333333", 0.8)
cloud(ax, (d1_core_x, d1_core_y), (d1_halo_x, d1_halo_y), "#ff2020")
ax = flow_plot((306, 754, 496.7, 944), 2, 4.55, 3.94,
               [(d2_ll_x, d2_ll_y, "#ff2020"), (d2_mid_x, d2_mid_y, "#ff2020"), (d2_ul_x, d2_ul_y, "#d640f0"), (d2_ur_x, d2_ur_y, "#2222e8"), (d2_lr_x, d2_lr_y, "#2a7a2a")],
               [("Q1-UL(3.84%)", "#d640f0"), ("Q1-UR(1.07%)", "#2222e8"), ("Q1-LL(94.51%)", "#ff2020"), ("Q1-LR(0.58%)", "#2a7a2a")],
               "sh-LINC01146", (404, 741), "#333333", 0.8)
cloud(ax, (d2_core_x, d2_core_y), (d2_halo_x, d2_halo_y), "#ff2020")

for letter, px, py in [("A", 9, 9), ("B", 9, 246), ("C", 10, 481), ("D", 8, 741)]:
    fig.text(px / W, 1 - py / H, letter, family="Liberation Serif", fontweight="bold", fontsize=14, ha="center", va="center", color="black")

fig.savefig("out.png", dpi=100)
